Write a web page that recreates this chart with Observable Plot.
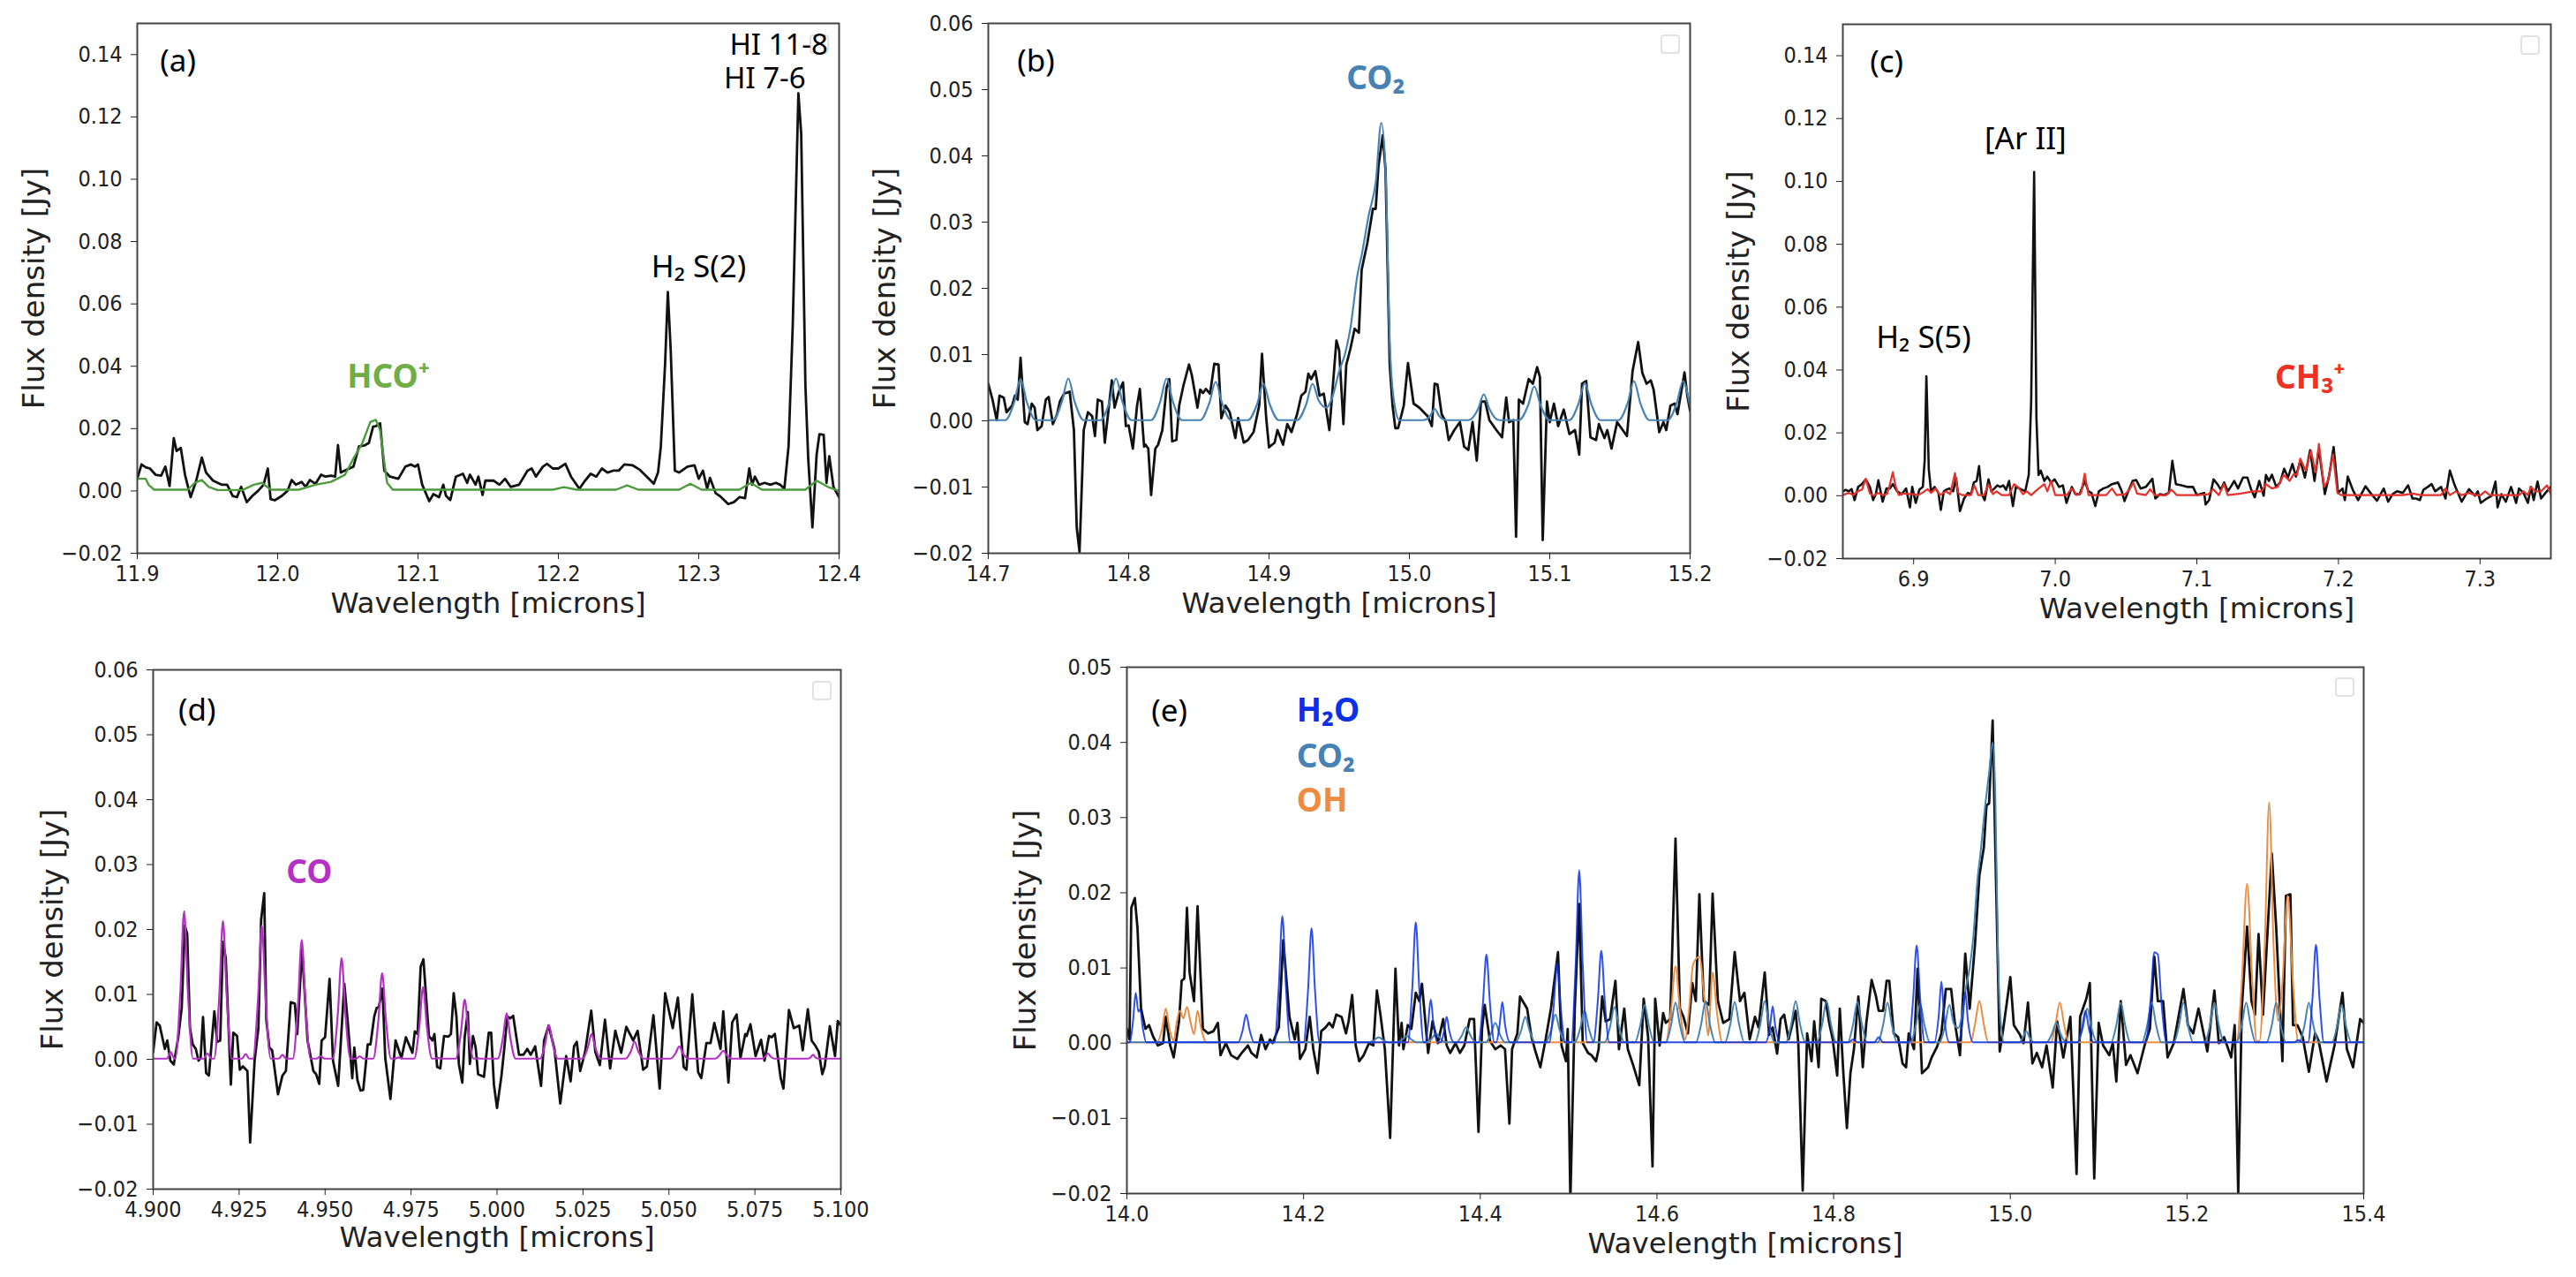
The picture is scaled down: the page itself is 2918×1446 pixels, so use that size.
<!DOCTYPE html>
<html>
<head>
<meta charset="utf-8">
<script src="https://cdn.jsdelivr.net/npm/d3@7"></script>
<script src="https://cdn.jsdelivr.net/npm/@observablehq/plot@0.6"></script>
<style>
  body { margin: 0; background: #fff; }
  #page { position: relative; width: 2918px; height: 1446px; overflow: hidden; }
  .chart { position: absolute; }
  .emptyLegend { position: absolute; width: 18px; height: 18px; border: 2px solid #e2e2e2; border-radius: 4px; background: #fff; }
</style>
</head>
<body>
<div id="page"></div>
<script>
// every series is [wavelength in microns, flux in mJy]
const blackA = [[11.900,3.9],[11.903,8.5],[11.906,7.6],[11.909,7.2],[11.913,5.2],[11.917,4.9],[11.920,7.8],[11.923,1.6],[11.926,16.9],[11.928,12.8],[11.931,13.8],[11.934,5.2],[11.938,-2],[11.942,3.3],[11.946,10.7],[11.949,5.9],[11.954,3.3],[11.960,2],[11.964,2],[11.968,-1.6],[11.971,-2],[11.974,1.3],[11.978,-3.6],[11.982,-1.6],[11.986,0],[11.990,2],[11.993,7.2],[11.995,-2.6],[11.998,-3],[12.003,-1.6],[12.007,0],[12.010,3.5],[12.013,2],[12.017,2.9],[12.020,1.3],[12.023,3.5],[12.027,2.3],[12.031,5.2],[12.034,4.6],[12.038,4.9],[12.041,4.6],[12.043,14.7],[12.045,5.9],[12.049,6.8],[12.054,7.8],[12.058,14.3],[12.062,14.6],[12.065,15.4],[12.068,20.6],[12.070,20.8],[12.073,21.7],[12.076,6.5],[12.080,4.6],[12.086,3.9],[12.091,7.8],[12.095,8.5],[12.098,7.8],[12.100,8.5],[12.103,2],[12.108,-3.3],[12.111,-1],[12.115,-2],[12.118,2],[12.120,-1.6],[12.123,-2.9],[12.127,4.6],[12.132,5.5],[12.135,2.6],[12.137,5.2],[12.141,2],[12.143,4.6],[12.146,-1.3],[12.148,3.3],[12.154,3.3],[12.158,2],[12.162,3.9],[12.166,1.3],[12.172,2],[12.178,6.5],[12.181,7.2],[12.184,4.6],[12.189,7.8],[12.192,8.7],[12.196,7.2],[12.200,7.2],[12.205,8.7],[12.209,4.6],[12.215,.7],[12.219,3.3],[12.223,5.5],[12.227,4.6],[12.231,7.2],[12.235,5.9],[12.239,6.5],[12.243,6.5],[12.247,8.5],[12.253,8.2],[12.258,6.8],[12.263,4.6],[12.268,2.3],[12.271,5.9],[12.273,14.3],[12.276,40.4],[12.278,63.8],[12.280,45.6],[12.283,6.5],[12.286,5.9],[12.292,7.8],[12.297,8.2],[12.300,3.9],[12.303,6.5],[12.306,.7],[12.308,4.2],[12.312,-.7],[12.315,-1.6],[12.321,-4.2],[12.325,-3.6],[12.329,-2],[12.333,-2.3],[12.336,7.2],[12.338,2],[12.340,4.6],[12.343,2],[12.347,2.6],[12.351,2],[12.355,2.6],[12.358,2],[12.361,.7],[12.364,14.3],[12.367,53.4],[12.371,127.6],[12.373,114.6],[12.376,33.9],[12.378,10.4],[12.381,-11.7],[12.384,11.7],[12.386,18.2],[12.389,18],[12.391,2.6],[12.393,11.1],[12.396,1.3],[12.400,-2]];
const hcoA = [[11.900,3.9],[11.906,3.9],[11.908,2],[11.912,.4],[11.936,.4],[11.941,2.6],[11.946,3.5],[11.951,1.3],[11.957,.3],[11.975,.3],[11.983,2],[11.989,2.6],[11.995,.4],[12.015,.4],[12.027,2],[12.038,2.9],[12.048,5.2],[12.054,10.4],[12.060,15],[12.063,18.5],[12.066,22.1],[12.070,22.8],[12.073,19.5],[12.076,9.1],[12.078,2.6],[12.082,.4],[12.196,.4],[12.204,1.2],[12.213,.4],[12.241,.4],[12.249,1.8],[12.257,.4],[12.286,.4],[12.294,2.3],[12.302,.4],[12.329,.4],[12.337,2.6],[12.345,.4],[12.376,.4],[12.384,3.3],[12.392,1.3],[12.400,0]];

const blackB = [[14.700,5.6],[14.703,3.2],[14.706,.1],[14.708,3.8],[14.711,3.5],[14.713,1.3],[14.717,2.3],[14.719,3.8],[14.721,3.2],[14.723,9.5],[14.726,-.2],[14.728,-.5],[14.731,2.6],[14.733,2],[14.735,-1.4],[14.738,-.8],[14.741,3.2],[14.743,3.6],[14.746,-.5],[14.749,1],[14.751,2.9],[14.754,4.1],[14.758,4.4],[14.761,-1.4],[14.763,-16.1],[14.765,-19.8],[14.768,-1.4],[14.771,1.3],[14.774,.7],[14.776,-2.3],[14.778,3.2],[14.781,2.9],[14.783,-3.3],[14.786,2.3],[14.788,6.1],[14.790,2],[14.793,4.4],[14.796,5.8],[14.798,-.8],[14.800,-.7],[14.803,-4.2],[14.806,2.3],[14.808,4.8],[14.811,-3.9],[14.812,-3.6],[14.814,-4.2],[14.816,-11.2],[14.819,-4.2],[14.821,-3.6],[14.824,-1.4],[14.827,5],[14.829,6.3],[14.831,-3.1],[14.834,-2.9],[14.836,2.3],[14.839,5.3],[14.843,8.5],[14.845,6.9],[14.849,2],[14.851,4.7],[14.853,4.2],[14.855,4.8],[14.858,4.1],[14.861,8.6],[14.864,8.5],[14.866,.4],[14.869,2.3],[14.872,1.3],[14.876,-2.6],[14.878,.4],[14.882,-3.3],[14.885,-2.9],[14.889,-1.7],[14.893,2.3],[14.895,10.1],[14.898,.4],[14.900,-4],[14.904,-3.3],[14.906,-1.4],[14.910,-3.6],[14.913,-.5],[14.916,-1.7],[14.920,1],[14.923,3.8],[14.926,4.4],[14.928,7.1],[14.930,6.3],[14.933,7.5],[14.936,3.8],[14.939,4.1],[14.943,-1.4],[14.948,12.1],[14.950,10.6],[14.953,-.5],[14.955,8.4],[14.958,10.9],[14.961,13.9],[14.964,13.3],[14.966,22.8],[14.970,26.8],[14.974,32],[14.976,32],[14.978,38.5],[14.981,43.1],[14.983,37.9],[14.986,8.4],[14.988,2.3],[14.990,-1.1],[14.992,-1.1],[14.996,2.3],[14.999,8.7],[15.003,2.6],[15.007,2],[15.013,.7],[15.016,-.8],[15.018,5.6],[15.020,5.5],[15.023,1],[15.026,-.2],[15.028,-2.9],[15.032,-1.4],[15.036,-.2],[15.039,-3.9],[15.042,-4.4],[15.045,-.2],[15.048,-6],[15.051,2.9],[15.054,2.9],[15.057,.1],[15.062,-1.4],[15.066,-2.5],[15.069,3.5],[15.071,-.2],[15.074,.1],[15.076,-17.5],[15.078,3.2],[15.081,2.6],[15.085,6.3],[15.088,5.6],[15.091,8.1],[15.093,6.6],[15.095,-18],[15.098,2.9],[15.100,-.2],[15.103,2.6],[15.106,-.8],[15.110,1.7],[15.114,-2],[15.118,-1.4],[15.121,-5.1],[15.123,5.6],[15.126,6],[15.129,-2.5],[15.133,-2.9],[15.135,-.5],[15.139,-2.6],[15.141,-1.4],[15.144,-4.2],[15.148,-.2],[15.152,-1.4],[15.155,-2.3],[15.159,7.5],[15.163,11.9],[15.166,7.2],[15.169,5.6],[15.172,6.1],[15.174,4.7],[15.178,-1.7],[15.181,-.2],[15.183,-1.4],[15.186,2.3],[15.189,2.6],[15.191,1],[15.196,7.3],[15.198,3.8],[15.200,1.5]];
const co2B = [[14.700,.1],[14.712,.1],[14.7185,2.8],[14.723,6.3],[14.7275,2.8],[14.734,.1],[14.746,.1],[14.7525,2.9],[14.757,6.4],[14.7615,2.9],[14.768,.1],[14.780,.1],[14.7865,2.9],[14.791,6.4],[14.7955,2.9],[14.802,.1],[14.816,.1],[14.8225,2.9],[14.827,6.4],[14.8315,2.9],[14.838,.1],[14.851,.1],[14.8575,2.7],[14.862,5.9],[14.8665,2.7],[14.873,.1],[14.885,.1],[14.8915,2.5],[14.896,5.6],[14.9005,2.5],[14.907,.1],[14.920,.1],[14.9265,2.5],[14.931,5.6],[14.9355,3],[14.941,2],[14.945,3.5],[14.950,7.5],[14.954,10],[14.958,14],[14.963,22],[14.966,25],[14.971,31],[14.976,36],[14.980,45],[14.983,38],[14.986,12],[14.989,3],[14.993,.1],[15.010,.1],[15.015,.8],[15.018,1.8],[15.021,.8],[15.026,.1],[15.042,.1],[15.049,1.8],[15.053,4],[15.057,1.8],[15.064,.1],[15.078,.1],[15.0845,2.3],[15.089,5.2],[15.0935,2.3],[15.100,.1],[15.114,.1],[15.1205,2.6],[15.125,5.7],[15.1295,2.6],[15.136,.1],[15.149,.1],[15.1555,2.7],[15.160,6],[15.1645,2.7],[15.171,.1],[15.184,.1],[15.1905,2.7],[15.195,6],[15.1995,2.7],[15.200,2.2]];

const blackC = [[6.8500,1.4],[6.8521,1.9],[6.8542,1.4],[6.8562,2.1],[6.8583,-1.4],[6.8608,2.8],[6.8635,3.7],[6.8662,5.2],[6.8691,2.8],[6.8714,-1.4],[6.8733,.5],[6.8751,4.9],[6.8781,-1.9],[6.8808,2.3],[6.8832,2.3],[6.8853,3.7],[6.8884,1.4],[6.8916,.5],[6.8947,2.3],[6.8974,-3.7],[6.8990,2.8],[6.9015,-2.3],[6.9040,1.9],[6.9065,2.8],[6.9078,11.2],[6.9090,38],[6.9107,8.4],[6.9123,1.4],[6.9148,2.8],[6.9175,.9],[6.9192,-4.5],[6.9213,1.4],[6.9231,1.9],[6.9252,2.3],[6.9279,1.4],[6.9300,5.6],[6.9327,-4.9],[6.9356,-.9],[6.9383,.9],[6.9406,.5],[6.9425,4.2],[6.9445,4.7],[6.9462,9.4],[6.9481,.5],[6.9502,-1.4],[6.9529,5.2],[6.9549,1.4],[6.9570,2.3],[6.9591,3.3],[6.9612,2.8],[6.9633,3.3],[6.9653,1.9],[6.9674,4.7],[6.9701,-3.3],[6.9722,2.8],[6.9747,2.3],[6.9788,1.4],[6.9813,6.6],[6.9830,30],[6.9851,103],[6.9867,25],[6.9882,6.6],[6.9898,8],[6.9923,4.7],[6.9944,6.1],[6.9971,4.2],[6.9996,5.2],[7.0027,2.8],[7.0054,3.3],[7.0079,-2.3],[7.0100,.5],[7.0117,2.8],[7.0142,.5],[7.0173,.5],[7.0208,4.7],[7.0235,1.4],[7.0256,.9],[7.0283,-3.3],[7.0308,1.4],[7.0339,2.3],[7.0370,2.8],[7.0401,3.7],[7.0443,4.2],[7.0470,1.4],[7.0489,-1.7],[7.0516,1.4],[7.0547,4.7],[7.0572,5],[7.0603,2.3],[7.0640,2.8],[7.0686,5.4],[7.0707,-.9],[7.0740,.5],[7.0765,.2],[7.0802,.9],[7.0827,11.1],[7.0852,3.7],[7.0890,3.3],[7.0931,2.8],[7.0973,2.8],[7.1000,.2],[7.1052,.9],[7.1062,-2.8],[7.1087,-1.4],[7.1118,5.2],[7.1145,3.7],[7.1170,1.9],[7.1193,4.2],[7.1218,1.4],[7.1239,2.8],[7.1264,4.7],[7.1291,2.3],[7.1326,5.8],[7.1357,5.8],[7.1384,1.9],[7.1409,-.5],[7.1441,4.7],[7.1472,0],[7.1488,6.6],[7.1509,4.7],[7.1530,6.7],[7.1561,2.8],[7.1588,4.2],[7.1617,8.6],[7.1644,5.8],[7.1675,10.1],[7.1700,6.1],[7.1731,11.2],[7.1763,5.8],[7.1800,14.5],[7.1831,4.7],[7.1862,15],[7.1904,.5],[7.1935,6.6],[7.1966,15.5],[7.1997,.9],[7.2029,2.3],[7.2045,-1.4],[7.2066,6.1],[7.2101,1.9],[7.2139,-1.4],[7.2191,3],[7.2226,.9],[7.2272,-1.6],[7.2320,2.3],[7.2351,-1.9],[7.2382,.5],[7.2413,1.4],[7.2455,.9],[7.2492,3.3],[7.2523,-.9],[7.2548,-.9],[7.2575,-1.4],[7.2600,1.9],[7.2631,2.8],[7.2658,3.7],[7.2683,1.4],[7.2725,2.8],[7.2756,-.9],[7.2787,8],[7.2818,3.7],[7.2839,1.4],[7.2870,-1.9],[7.2922,2.1],[7.2964,0],[7.2984,1.4],[7.3005,-2.3],[7.3047,-.9],[7.3082,0],[7.3109,4.5],[7.3124,-3.7],[7.3151,.5],[7.3182,-1.9],[7.3219,2.8],[7.3255,-2.3],[7.3275,2.3],[7.3307,.9],[7.3338,-2.3],[7.3359,2.8],[7.3379,-1.4],[7.3406,4.5],[7.3431,-.9],[7.3462,.9],[7.3500,2.8]];
const ch3C = [[6.8500,.2],[6.8542,.9],[6.8573,.2],[6.8604,1.4],[6.8635,1.9],[6.8662,5.4],[6.8691,.7],[6.8718,0],[6.8749,.9],[6.8781,.2],[6.8812,.5],[6.8828,2.8],[6.8853,7.5],[6.8874,2.8],[6.8895,.2],[6.8926,.7],[6.8999,.5],[6.9030,.2],[6.9061,.9],[6.9098,2.1],[6.9123,.9],[6.9155,2.3],[6.9186,.2],[6.9227,1.4],[6.9258,.5],[6.9292,7.2],[6.9315,.9],[6.9342,.2],[6.9404,.2],[6.9429,3.3],[6.9456,.2],[6.9497,.2],[6.9529,3.6],[6.9560,.5],[6.9585,1.4],[6.9622,.2],[6.9674,.2],[6.9709,3.7],[6.9741,2.6],[6.9772,.5],[6.9799,1.4],[6.9830,.2],[6.9872,1.9],[6.9923,3.7],[6.9944,1.4],[6.9971,4.7],[7.0000,.2],[7.0079,.2],[7.0117,2.3],[7.0152,.2],[7.0183,.9],[7.0208,7],[7.0235,.2],[7.0360,.2],[7.0401,2.3],[7.0433,.2],[7.0495,.5],[7.0526,2.1],[7.0551,4.2],[7.0578,.7],[7.0640,.2],[7.0671,2.1],[7.0703,.2],[7.0786,.2],[7.0821,1.9],[7.0859,.2],[7.1000,.2],[7.1083,.5],[7.1114,2.1],[7.1156,.2],[7.1191,3.7],[7.1218,.2],[7.1312,.7],[7.1395,1.4],[7.1457,1.4],[7.1488,3.7],[7.1530,2.3],[7.1571,2.8],[7.1613,6.6],[7.1655,4.7],[7.1686,7],[7.1707,6.6],[7.1731,11.8],[7.1769,8],[7.1806,14.3],[7.1838,7.5],[7.1862,16.5],[7.1898,2.8],[7.1925,4.7],[7.1962,13.1],[7.1993,.9],[7.2018,.2],[7.2455,.2],[7.2527,.7],[7.2579,.2],[7.2725,.2],[7.2756,2.3],[7.2787,.2],[7.2829,1.4],[7.2870,.2],[7.2922,.9],[7.2964,.2],[7.3005,.2],[7.3036,1.4],[7.3068,.2],[7.3275,.2],[7.3307,1.4],[7.3338,.2],[7.3359,2.8],[7.3390,1.4],[7.3431,1.4],[7.3473,3.3],[7.3500,.5]];

const blackD = [[4.9000,1.1],[4.9010,5.7],[4.9019,5.2],[4.9034,1.6],[4.9041,2.9],[4.9050,-.2],[4.9060,-.8],[4.9073,3.4],[4.9083,7.9],[4.9092,20.6],[4.9099,19.3],[4.9107,4.8],[4.9115,2.3],[4.9124,1.6],[4.9132,-.2],[4.9138,.2],[4.9145,6.5],[4.9154,-2.1],[4.9162,-2.5],[4.9178,7.4],[4.9186,2.7],[4.9195,2.9],[4.9203,18.1],[4.9211,15.6],[4.9226,-3.9],[4.9233,4.1],[4.9244,3.6],[4.9252,-1.6],[4.9261,-1.1],[4.9274,-1.8],[4.9282,-12.8],[4.9295,-.2],[4.9306,4.8],[4.9314,21.5],[4.9323,25.6],[4.9329,6.1],[4.9338,1.8],[4.9346,1.4],[4.9363,-5.4],[4.9376,-2.5],[4.9386,-1.8],[4.9400,8.8],[4.9412,8.6],[4.9419,3.9],[4.9433,17],[4.9449,2.9],[4.9466,-1.8],[4.9474,-2.3],[4.9483,-3.8],[4.9490,2.9],[4.9500,3.4],[4.9513,12.4],[4.9523,-.2],[4.9538,-4.1],[4.9556,11.6],[4.9566,5.7],[4.9579,-2.9],[4.9585,1.8],[4.9594,-3.2],[4.9603,-4.8],[4.9611,-4.7],[4.9624,2.3],[4.9632,2.3],[4.9643,6.6],[4.9650,7.9],[4.9656,8],[4.9667,10.9],[4.9675,.2],[4.9690,-6.1],[4.9705,2.9],[4.9722,.2],[4.9735,3.4],[4.9754,1],[4.9761,4.3],[4.9769,3.9],[4.9778,14.3],[4.9786,15.4],[4.9802,3.6],[4.9812,2.9],[4.9818,3.9],[4.9826,-1.2],[4.9835,-1.4],[4.9846,3.6],[4.9859,3.5],[4.9866,3.9],[4.9874,10.2],[4.9882,6.6],[4.9889,-.7],[4.9899,-3.6],[4.9906,3.4],[4.9915,7.3],[4.9921,-.7],[4.9930,3.6],[4.9938,1.8],[4.9945,-2.3],[4.9962,-2.7],[4.9976,4.1],[4.9983,4.1],[4.9991,-3.9],[5.0000,-7.5],[5.0013,-2.5],[5.0021,1.6],[5.0030,6.6],[5.0038,6.3],[5.0047,6.7],[5.0064,.7],[5.0077,.7],[5.0088,1.6],[5.0098,.7],[5.0111,2],[5.0128,-4.1],[5.0137,2.9],[5.0150,5.2],[5.0167,1.6],[5.0184,-6.8],[5.0201,.5],[5.0214,-3.4],[5.0224,2],[5.0232,2.7],[5.0242,-1.8],[5.0256,1.1],[5.0274,7.5],[5.0286,1.1],[5.0299,-.9],[5.0314,6.1],[5.0329,-1.4],[5.0344,4.4],[5.0361,1],[5.0376,5],[5.0396,2.9],[5.0409,4.4],[5.0425,-1.6],[5.0436,-1.1],[5.0455,6.8],[5.0473,-4.5],[5.0489,10.2],[5.0511,4.8],[5.0526,9.5],[5.0543,-1.2],[5.0551,-1.6],[5.0568,10],[5.0585,-2],[5.0594,-2.9],[5.0609,2.5],[5.0621,2.5],[5.0632,5.6],[5.0650,1.6],[5.0658,7.4],[5.0673,-3.6],[5.0684,5.7],[5.0697,6.9],[5.0708,.2],[5.0722,3.9],[5.0726,3.6],[5.0737,5.4],[5.0752,.5],[5.0768,3],[5.0778,-.2],[5.0791,3.6],[5.0799,3.4],[5.0808,3.9],[5.0825,-2.9],[5.0833,-4.5],[5.0849,7.6],[5.0863,4.8],[5.0879,5.2],[5.0889,1.4],[5.0904,7.7],[5.0915,2.9],[5.0927,2],[5.0936,1.1],[5.0946,-2.3],[5.0953,-1.1],[5.0968,5.1],[5.0983,.5],[5.0991,5.9],[5.1000,5.2]];
const coD = [[4.9000,.1],[4.9040,.1],[4.9051,1.1],[4.9062,.1],[4.9064,.1],[4.9079,10.3],[4.9090,22.8],[4.9101,10.3],[4.9116,.1],[4.9147,.1],[4.9158,.9],[4.9169,.1],[4.9177,.1],[4.9192,9.6],[4.9203,21.3],[4.9214,9.6],[4.9229,.1],[4.9258,.1],[4.9269,.8],[4.9280,.1],[4.9290,.1],[4.9305,9.3],[4.9316,20.6],[4.9327,9.3],[4.9342,.1],[4.9365,.1],[4.9376,.7],[4.9387,.1],[4.9406,.1],[4.9421,8.3],[4.9432,18.4],[4.9443,8.3],[4.9458,.1],[4.9476,.1],[4.9487,.5],[4.9498,.1],[4.9522,.1],[4.9537,7],[4.9548,15.6],[4.9559,7],[4.9574,.1],[4.9590,.1],[4.9601,.45],[4.9612,.1],[4.9640,.1],[4.9655,6],[4.9666,13.3],[4.9677,6],[4.9692,.1],[4.9703,.1],[4.9714,.3],[4.9725,.1],[4.9759,.1],[4.9774,5],[4.9785,11.1],[4.9796,5],[4.9811,.1],[4.9820,.1],[4.9829,.2],[4.9838,.1],[4.9880,.1],[4.9895,4.1],[4.9906,9.2],[4.9917,4.1],[4.9932,.1],[4.9940,.1],[4.9945,.2],[4.9950,.1],[5.0002,.1],[5.0017,3.2],[5.0028,7.1],[5.0039,3.2],[5.0054,.1],[5.0125,.1],[5.0140,2.4],[5.0151,5.3],[5.0162,2.4],[5.0177,.1],[5.0249,.1],[5.0264,1.8],[5.0275,3.9],[5.0286,1.8],[5.0301,.1],[5.0374,.1],[5.0389,1.2],[5.0400,2.7],[5.0411,1.2],[5.0426,.1],[5.0504,.1],[5.0519,.9],[5.0530,2],[5.0541,.9],[5.0556,.1],[5.0635,.1],[5.0647,.6],[5.0658,1.3],[5.0669,.6],[5.0681,.1],[5.0770,.1],[5.0780,.4],[5.0788,.9],[5.0796,.4],[5.0806,.1],[5.0902,.1],[5.0912,.3],[5.0919,.7],[5.0926,.3],[5.0936,.1],[5.1000,.1]];

const blackE = [[14.000,1.9],[14.003,.5],[14.005,18],[14.009,19.3],[14.012,15.3],[14.016,4.6],[14.021,1.9],[14.025,2.4],[14.030,.8],[14.035,-.3],[14.041,0],[14.044,3.5],[14.049,-.3],[14.053,-1.9],[14.059,2.9],[14.062,8.3],[14.065,8.6],[14.068,18],[14.071,9.4],[14.076,5.6],[14.080,18.2],[14.086,1.9],[14.092,1.3],[14.098,1.6],[14.103,2.7],[14.106,-1.6],[14.112,0],[14.118,-1.6],[14.125,-2.1],[14.130,-1.3],[14.137,-.3],[14.141,-1.3],[14.147,-1.9],[14.152,1.1],[14.157,-.8],[14.162,.5],[14.165,0],[14.172,2.1],[14.177,13.7],[14.184,3.5],[14.190,.5],[14.193,2.7],[14.196,-2.1],[14.202,-.8],[14.207,3.5],[14.211,-.8],[14.216,-4],[14.220,1.6],[14.225,2.1],[14.229,2.7],[14.233,2.1],[14.237,3.8],[14.243,3.5],[14.248,1.3],[14.251,2.9],[14.255,6.4],[14.259,-.3],[14.263,-2.4],[14.268,-1.6],[14.274,0],[14.279,-.3],[14.283,7],[14.287,3.8],[14.292,-.8],[14.298,-12.6],[14.304,9.9],[14.308,-.3],[14.311,2.7],[14.313,-.8],[14.318,2.4],[14.322,1.9],[14.327,6.7],[14.331,5.6],[14.334,7.9],[14.339,1.3],[14.341,-1.3],[14.346,2.9],[14.352,0],[14.358,3.2],[14.362,-.3],[14.366,-1.3],[14.372,0],[14.377,-1.3],[14.382,-.3],[14.388,3.2],[14.393,3.2],[14.398,-11.8],[14.402,1.9],[14.405,5.1],[14.411,.3],[14.417,-.8],[14.423,-.3],[14.428,-.8],[14.433,-10.7],[14.436,-.8],[14.442,1.3],[14.445,6.2],[14.453,4.6],[14.458,.8],[14.463,-1.3],[14.468,-3.2],[14.474,.5],[14.480,4.6],[14.488,12.1],[14.492,-.3],[14.497,-2.4],[14.499,1.9],[14.502,-21],[14.507,4.6],[14.512,18.5],[14.516,0],[14.522,-1.3],[14.526,-1.6],[14.531,-2.4],[14.534,-.8],[14.538,6.2],[14.542,2.9],[14.547,3.2],[14.553,8.3],[14.557,-.8],[14.563,4.6],[14.567,-.8],[14.573,-2.9],[14.580,-5.6],[14.585,5.9],[14.590,.8],[14.595,-16.4],[14.598,5.9],[14.603,-.3],[14.607,4],[14.610,2.7],[14.615,3.2],[14.621,27.2],[14.626,4.6],[14.630,3.5],[14.635,1.3],[14.640,8],[14.644,5.6],[14.648,19.8],[14.653,5.6],[14.659,5.1],[14.663,19.9],[14.669,5.6],[14.675,2.7],[14.682,3.2],[14.688,12.1],[14.694,5.6],[14.699,6.7],[14.705,.5],[14.711,3.5],[14.715,2.1],[14.722,9.4],[14.727,1.1],[14.731,2.1],[14.736,-1.4],[14.740,3.2],[14.744,3.8],[14.749,.5],[14.757,4.3],[14.760,0],[14.765,-19.6],[14.770,1.3],[14.775,-2.4],[14.778,2.9],[14.783,-3.2],[14.786,5.9],[14.791,5.6],[14.795,2.7],[14.799,.5],[14.804,-4.3],[14.807,4.6],[14.811,-4],[14.815,-11.3],[14.819,-4],[14.823,-.8],[14.828,6.2],[14.833,-3.2],[14.837,2.7],[14.843,8.4],[14.848,6.2],[14.851,4.3],[14.856,4.3],[14.860,8.3],[14.863,8.3],[14.868,1.3],[14.873,.8],[14.878,-2.7],[14.882,-3.2],[14.885,1.3],[14.891,-.8],[14.895,9.9],[14.900,-4],[14.907,-3.2],[14.911,-1.9],[14.917,-.5],[14.922,1.3],[14.927,7.2],[14.933,7.2],[14.937,2.9],[14.943,-1.6],[14.949,11.9],[14.954,4.6],[14.960,13.1],[14.965,22.3],[14.970,26],[14.973,31.6],[14.976,31.9],[14.980,42.9],[14.984,20.6],[14.988,-1.1],[14.992,1.9],[15.000,8.8],[15.004,2.4],[15.011,1.1],[15.015,0],[15.020,5.4],[15.025,-2.7],[15.030,-1.3],[15.036,-3.2],[15.041,-.3],[15.048,-5.9],[15.053,2.9],[15.060,-1.9],[15.068,3.5],[15.075,-17.4],[15.079,3.5],[15.086,5.9],[15.090,8],[15.095,-18],[15.100,2.7],[15.105,-.3],[15.112,-1.6],[15.116,0],[15.120,-5.1],[15.125,5.6],[15.131,-2.9],[15.136,-1.6],[15.144,-4],[15.152,-.3],[15.158,1.9],[15.163,11.5],[15.167,5.6],[15.173,5.6],[15.178,-1.9],[15.185,0],[15.196,7.2],[15.201,2.4],[15.207,1.3],[15.213,4.6],[15.223,-1.1],[15.231,7],[15.236,0],[15.242,.8],[15.250,-1.9],[15.254,2.4],[15.258,-20.1],[15.262,4.6],[15.268,15.5],[15.273,5.6],[15.277,3.8],[15.281,14.5],[15.286,3.8],[15.296,25.2],[15.301,15.3],[15.308,-2.4],[15.312,19.6],[15.317,19.8],[15.320,2.4],[15.325,2.4],[15.331,.8],[15.338,-3.8],[15.345,1.3],[15.349,.3],[15.358,-5.1],[15.364,-1.9],[15.367,-.3],[15.376,6.7],[15.381,-.8],[15.388,-3.2],[15.396,3.2],[15.400,2.7]];
const h2oE = [[14.000,.1],[14.003,.1],[14.007,3],[14.010,6.7],[14.013,4.2],[14.015,4.5],[14.018,2],[14.022,.1],[14.126,.1],[14.131,1.7],[14.135,3.8],[14.139,1.7],[14.144,.1],[14.167,.1],[14.172,7.6],[14.176,16.9],[14.180,7.6],[14.185,.1],[14.200,.1],[14.205,6.9],[14.209,15.3],[14.213,6.9],[14.218,.1],[14.318,.1],[14.323,7.2],[14.327,16.1],[14.331,7.2],[14.336,.1],[14.338,.1],[14.341,2.6],[14.344,5.8],[14.347,2.6],[14.352,.1],[14.355,.1],[14.359,1.6],[14.362,3.5],[14.365,1.6],[14.370,.1],[14.398,.1],[14.403,5.3],[14.407,11.8],[14.411,5.3],[14.416,.1],[14.418,.1],[14.422,2.5],[14.425,5.5],[14.428,2.5],[14.434,.1],[14.478,.1],[14.483,4.8],[14.487,10.7],[14.491,4.8],[14.496,.1],[14.503,.1],[14.508,10.4],[14.512,23],[14.516,10.4],[14.521,.1],[14.528,.1],[14.533,5.5],[14.537,12.3],[14.541,5.5],[14.546,.1],[14.723,.1],[14.728,2.2],[14.731,4.9],[14.734,2.2],[14.740,.1],[14.817,.1],[14.822,.5],[14.827,.1],[14.846,.1],[14.851,.8],[14.856,.1],[14.885,.1],[14.890,5.9],[14.894,13],[14.898,5.9],[14.903,.1],[14.914,.1],[14.919,3.7],[14.922,8.2],[14.925,3.7],[14.931,.1],[14.941,.1],[14.946,3],[14.949,6.8],[14.952,3],[14.958,.1],[15.076,.1],[15.081,1.9],[15.085,4.3],[15.089,1.9],[15.094,.1],[15.153,.1],[15.159,6],[15.163,12.1],[15.167,11.8],[15.171,5.5],[15.177,.1],[15.321,.1],[15.326,.4],[15.331,.1],[15.337,.1],[15.342,5.9],[15.346,13.1],[15.350,5.9],[15.355,.1],[15.400,.1]];
const co2E = [[14.000,.1],[14.274,.1],[14.280,.4],[14.285,.8],[14.290,.4],[14.296,.1],[14.306,.1],[14.312,.5],[14.317,1],[14.322,.5],[14.328,.1],[14.339,.1],[14.345,.6],[14.350,1.3],[14.355,.6],[14.361,.1],[14.373,.1],[14.379,1],[14.384,2.1],[14.389,1],[14.395,.1],[14.406,.1],[14.412,1.2],[14.417,2.7],[14.422,1.2],[14.428,.1],[14.440,.1],[14.446,1.6],[14.451,3.5],[14.456,1.6],[14.462,.1],[14.474,.1],[14.480,1.7],[14.485,3.8],[14.490,1.7],[14.496,.1],[14.507,.1],[14.513,1.9],[14.518,4.3],[14.523,1.9],[14.529,.1],[14.541,.1],[14.547,2.2],[14.552,4.8],[14.557,2.2],[14.563,.1],[14.575,.1],[14.581,2.3],[14.586,5.1],[14.591,2.3],[14.597,.1],[14.610,.1],[14.616,2.4],[14.621,5.4],[14.626,2.4],[14.632,.1],[14.644,.1],[14.650,2.5],[14.655,5.6],[14.660,2.5],[14.666,.1],[14.677,.1],[14.683,2.5],[14.688,5.5],[14.693,2.5],[14.699,.1],[14.711,.1],[14.717,2.5],[14.722,5.6],[14.727,2.5],[14.733,.1],[14.746,.1],[14.752,2.5],[14.757,5.6],[14.762,2.5],[14.768,.1],[14.781,.1],[14.787,2.5],[14.792,5.6],[14.797,2.5],[14.803,.1],[14.816,.1],[14.822,2.5],[14.827,5.5],[14.832,2.5],[14.838,.1],[14.850,.1],[14.856,2.4],[14.861,5.4],[14.866,2.4],[14.872,.1],[14.887,.1],[14.893,2.3],[14.898,5.2],[14.903,2.3],[14.909,.1],[14.920,.1],[14.926,2.3],[14.931,5.1],[14.936,2.6],[14.941,2],[14.945,3.5],[14.950,7.5],[14.954,10],[14.958,14],[14.963,22],[14.966,25],[14.971,31],[14.976,36],[14.980,40],[14.983,33],[14.986,12],[14.989,3],[14.993,.1],[15.010,.1],[15.014,.7],[15.018,1.6],[15.022,.7],[15.027,.1],[15.041,.1],[15.047,1.2],[15.052,2.7],[15.057,1.2],[15.063,.1],[15.076,.1],[15.082,2],[15.087,4.6],[15.092,2],[15.098,.1],[15.114,.1],[15.120,2.4],[15.125,5.4],[15.130,2.4],[15.136,.1],[15.149,.1],[15.155,2.4],[15.160,5.4],[15.165,2.4],[15.171,.1],[15.185,.1],[15.191,2.4],[15.196,5.4],[15.201,2.4],[15.207,.1],[15.220,.1],[15.226,2.4],[15.231,5.4],[15.236,2.4],[15.242,.1],[15.256,.1],[15.262,2.4],[15.267,5.4],[15.272,2.4],[15.278,.1],[15.290,.1],[15.296,2.4],[15.301,5.4],[15.306,2.4],[15.312,.1],[15.327,.1],[15.333,2.4],[15.338,5.4],[15.343,2.4],[15.349,.1],[15.364,.1],[15.370,2.3],[15.375,5.1],[15.380,2.3],[15.386,.1],[15.400,.1]];
const ohE = [[14.000,.1],[14.034,.1],[14.040,2],[14.044,4.6],[14.048,2],[14.053,.3],[14.056,2.5],[14.060,4.3],[14.064,3.3],[14.068,4.8],[14.072,2.8],[14.076,1.2],[14.080,4.3],[14.084,2],[14.090,.1],[14.610,.1],[14.616,4.5],[14.621,10.2],[14.626,4.5],[14.632,.5],[14.636,4],[14.641,10.5],[14.648,11.5],[14.654,5.5],[14.658,1],[14.663,9.4],[14.668,4],[14.674,.1],[14.955,.1],[14.960,2.5],[14.965,5.6],[14.970,2.5],[14.975,.1],[15.046,.1],[15.051,2.4],[15.056,5.4],[15.061,2.4],[15.066,.1],[15.256,.1],[15.262,8],[15.268,21.2],[15.274,8],[15.279,.3],[15.282,.3],[15.288,13],[15.293,32],[15.298,13],[15.303,3],[15.308,8],[15.314,19.6],[15.320,8],[15.326,.1],[15.400,.1]];

const xTicksA = [11.9, 12.0, 12.1, 12.2, 12.3, 12.4];
const xTicksB = [14.7, 14.8, 14.9, 15.0, 15.1, 15.2];
const xTicksC = [6.9, 7.0, 7.1, 7.2, 7.3];
const xTicksD = [4.9, 4.925, 4.95, 4.975, 5.0, 5.025, 5.05, 5.075, 5.1];
const xTicksE = [14.0, 14.2, 14.4, 14.6, 14.8, 15.0, 15.2, 15.4];
const yTicksTall = [-0.02, 0, 0.02, 0.04, 0.06, 0.08, 0.10, 0.12, 0.14];
const yTicksMid = [-0.02, -0.01, 0, 0.01, 0.02, 0.03, 0.04, 0.05, 0.06];
const yTicksE = [-0.02, -0.01, 0, 0.01, 0.02, 0.03, 0.04, 0.05];

const rows = s => s.map(([w, f]) => ({w, f: f / 1000}));
const page = document.getElementById("page");
const noteFont = "'Noto Sans', sans-serif";

// a label placed in data coordinates
function note(t, w, f, fill = "#000", bold = false, anchor = "middle", size = bold ? 37 : 35) {
  return Plot.text([t], {x: () => w, y: () => f, fill, textAnchor: anchor,
    fontFamily: noteFont, fontSize: size, fontWeight: bold ? 700 : 400});
}

function panel(o) {
  const ml = 140, mt = 20, mr = 50, mb = 80;
  const series = o.series.map(s => Plot.line(rows(s.data), {
    x: "w", y: "f", stroke: s.color, strokeWidth: s.width, strokeOpacity: s.opacity ?? 1,
    curve: s.curve ?? "linear", clip: true
  }));
  const chart = Plot.plot({
    width: o.w + ml + mr, height: o.h + mt + mb,
    marginLeft: ml, marginRight: mr, marginTop: mt, marginBottom: mb,
    style: {fontFamily: "'DejaVu Sans Condensed', 'DejaVu Sans', sans-serif", color: "#222", background: "transparent", overflow: "visible", maxWidth: "none"},
    x: {domain: o.xDomain}, y: {domain: o.yDomain},
    marks: [
      ...series,
      ...o.notes,
      Plot.frame({stroke: "#444", strokeWidth: 2}),
      Plot.axisX({ticks: o.xTicks, tickFormat: o.xFormat, tickSize: 7, tickPadding: 7, fontSize: 25, label: null}),
      Plot.axisY({ticks: o.yTicks, tickFormat: ".2f", tickSize: 7, tickPadding: 10, fontSize: 25, label: null}),
      Plot.text(["Wavelength [microns]"], {frameAnchor: "bottom", dy: o.xLabelDy, fontSize: 32.5, fontFamily: "'DejaVu Sans', sans-serif", fill: "#222"}),
      Plot.text(["Flux density [Jy]"], {frameAnchor: "left", textAnchor: "middle", dx: o.yLabelDx, rotate: -90, fontSize: 34, fontFamily: "'DejaVu Sans', sans-serif", fill: "#222"})
    ]
  });
  if (o.legend) {
    const box = document.createElement("div");
    box.className = "emptyLegend";
    box.style.left = o.legend[0] + "px";
    box.style.top = o.legend[1] + "px";
    page.appendChild(box);
  }
  const holder = document.createElement("div");
  holder.className = "chart";
  holder.style.left = (o.x - ml) + "px";
  holder.style.top = (o.y - mt) + "px";
  holder.appendChild(chart);
  page.appendChild(holder);
}

panel({
  x: 155, y: 26, w: 795, h: 600, xDomain: [11.9, 12.4], yDomain: [-0.02, 0.15],
  xTicks: xTicksA, xFormat: ".1f", yTicks: yTicksTall, xLabelDy: 67, yLabelDx: -116, legend: [917, 39],
  series: [{data: blackA, color: "#111", width: 2.8}, {data: hcoA, color: "#4c9a3c", width: 2.4}],
  notes: [note("(a)", 11.929, 0.1378), note("HI 11-8", 12.357, 0.1428, "#000", false, "middle", 33), note("HI 7-6", 12.347, 0.1322, "#000", false, "middle", 33),
    note("H₂ S(2)", 12.300, 0.0716), note("HCO⁺", 12.079, 0.0365, "#70ad47", true)]
});
panel({
  x: 1119, y: 26, w: 795, h: 600, xDomain: [14.7, 15.2], yDomain: [-0.02, 0.06],
  xTicks: xTicksB, xFormat: ".1f", yTicks: yTicksMid, xLabelDy: 67, yLabelDx: -116, legend: [1881, 39],
  series: [{data: blackB, color: "#111", width: 2.8}, {data: co2B, color: "#4682b4", width: 2.2, curve: "monotone-x"}],
  notes: [note("(b)", 14.734, 0.0542), note("CO₂", 14.976, 0.0516, "#4682b4", true)]
});
panel({
  x: 2087, y: 27, w: 802, h: 605, xDomain: [6.85, 7.35], yDomain: [-0.02, 0.15],
  xTicks: xTicksC, xFormat: ".1f", yTicks: yTicksTall, xLabelDy: 67, yLabelDx: -117, legend: [2855, 40],
  series: [{data: blackC, color: "#111", width: 2.6}, {data: ch3C, color: "#e8302a", width: 2.2}],
  notes: [note("(c)", 6.881, 0.1378), note("[Ar II]", 6.979, 0.1135), note("H₂ S(5)", 6.907, 0.0503),
    note("CH₃⁺", 7.180, 0.0374, "#ee3124", true)]
});
panel({
  x: 173, y: 758, w: 779, h: 588, xDomain: [4.9, 5.1], yDomain: [-0.02, 0.06],
  xTicks: xTicksD, xFormat: ".3f", yTicks: yTicksMid, xLabelDy: 65, yLabelDx: -113, legend: [920, 771],
  series: [{data: blackD, color: "#111", width: 2.8}, {data: coD, color: "#b530c4", width: 2.2, curve: "monotone-x"}],
  notes: [note("(d)", 4.9128, 0.0537), note("CO", 4.9454, 0.0288, "#b530c4", true)]
});
panel({
  x: 1276, y: 755, w: 1401, h: 596, xDomain: [14.0, 15.4], yDomain: [-0.02, 0.05],
  xTicks: xTicksE, xFormat: ".1f", yTicks: yTicksE, xLabelDy: 67, yLabelDx: -114, legend: [2645, 767],
  series: [{data: blackE, color: "#111", width: 2.8},
    {data: ohE, color: "#ed8b3e", width: 2, curve: "monotone-x"},
    {data: co2E, color: "#4682b4", width: 2, curve: "monotone-x"},
    {data: h2oE, color: "#0a30e8", width: 2, opacity: 0.85, curve: "monotone-x"}],
  notes: [note("(e)", 14.048, 0.0441), note("H₂O", 14.192, 0.0442, "#0a30e8", true, "start"),
    note("CO₂", 14.192, 0.0381, "#4682b4", true, "start"), note("OH", 14.192, 0.0322, "#ed8b3e", true, "start")]
});
</script>
</body>
</html>
